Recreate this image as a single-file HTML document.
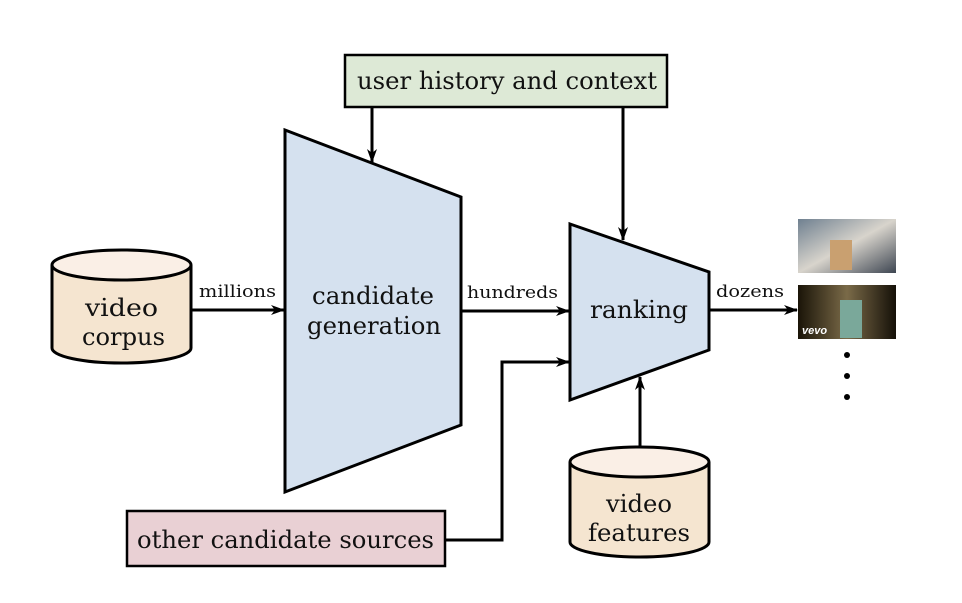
<!DOCTYPE html>
<html><head><meta charset="utf-8"><style>
body{margin:0;background:#fff}
svg text{font-family:"DejaVu Serif","Liberation Serif",serif;fill:#111}
</style></head><body>
<svg width="962" height="598" viewBox="0 0 962 598" xmlns="http://www.w3.org/2000/svg">
<defs>
<marker id="a" viewBox="0 0 14 10" refX="13" refY="5" markerWidth="14" markerHeight="10" markerUnits="userSpaceOnUse" orient="auto">
<path d="M0,0 L14,5 L0,10 L4,5 Z" fill="#000"/></marker>
<linearGradient id="g1" x1="0" y1="0" x2="1" y2="1"><stop offset="0" stop-color="#6f8090"/><stop offset="0.5" stop-color="#d8d4cc"/><stop offset="1" stop-color="#3e4652"/></linearGradient>
<linearGradient id="g2" x1="0" y1="0" x2="1" y2="0"><stop offset="0" stop-color="#1a1408"/><stop offset="0.5" stop-color="#7a6a48"/><stop offset="1" stop-color="#151008"/></linearGradient>
</defs>
<g stroke="#000" stroke-width="3" fill="none">
<path d="M52,265 L52,348 A69.5,15 0 0 0 191,348 L191,265" fill="#f5e5d0"/>
<ellipse cx="121.5" cy="265" rx="69.5" ry="15" fill="#faefe6"/>
<polygon points="285,130 461,197 461,425 285,492" fill="#d5e1ef"/>
<polygon points="570,224 709,272 709,350 570,400" fill="#d5e1ef"/>
<rect x="345" y="55" width="322" height="52" fill="#dde9d6" stroke-width="2.5"/>
<rect x="127" y="511" width="318" height="55" fill="#e9d0d4" stroke-width="2.5"/>
<path d="M570,462 L570,542 A69.5,15 0 0 0 709,542 L709,462" fill="#f5e5d0"/>
<ellipse cx="639.5" cy="462" rx="69.5" ry="15" fill="#faefe6"/>
<line x1="191" y1="310" x2="284" y2="310" marker-end="url(#a)"/>
<line x1="461" y1="311" x2="569" y2="311" marker-end="url(#a)"/>
<line x1="709" y1="310" x2="797" y2="310" marker-end="url(#a)"/>
<line x1="372" y1="107" x2="372" y2="162" marker-end="url(#a)"/>
<line x1="623" y1="107" x2="623" y2="240" marker-end="url(#a)"/>
<polyline points="445,540 502,540 502,362 569,362" marker-end="url(#a)"/>
<line x1="640" y1="447" x2="640" y2="377" marker-end="url(#a)"/>
</g>
<rect x="798" y="219" width="98" height="54" fill="url(#g1)"/>
<rect x="830" y="240" width="22" height="30" fill="#c9a070"/>
<rect x="798" y="285" width="98" height="54" fill="url(#g2)"/>
<rect x="840" y="300" width="22" height="38" fill="#7aa89a"/>
<text x="802" y="334" font-size="11" style="fill:#fff;font-family:'Liberation Sans',sans-serif;font-style:italic;font-weight:bold">vevo</text>
<circle cx="847" cy="355" r="3" fill="#000"/>
<circle cx="847" cy="376" r="3" fill="#000"/>
<circle cx="847" cy="397" r="3" fill="#000"/>
<g font-size="24" lengthAdjust="spacingAndGlyphs">
<text x="357" y="89" textLength="300" lengthAdjust="spacingAndGlyphs">user history and context</text>
<text x="85" y="316" textLength="73" lengthAdjust="spacingAndGlyphs">video</text>
<text x="82" y="345" textLength="83" lengthAdjust="spacingAndGlyphs">corpus</text>
<text x="312" y="304" textLength="122" lengthAdjust="spacingAndGlyphs">candidate</text>
<text x="307" y="334" textLength="134" lengthAdjust="spacingAndGlyphs">generation</text>
<text x="590" y="318" textLength="98" lengthAdjust="spacingAndGlyphs">ranking</text>
<text x="606" y="512" textLength="66" lengthAdjust="spacingAndGlyphs">video</text>
<text x="588" y="541" textLength="102" lengthAdjust="spacingAndGlyphs">features</text>
<text x="137" y="548" textLength="297" lengthAdjust="spacingAndGlyphs">other candidate sources</text>
</g>
<g font-size="17">
<text x="199" y="297" textLength="77" lengthAdjust="spacingAndGlyphs">millions</text>
<text x="467" y="298" textLength="91" lengthAdjust="spacingAndGlyphs">hundreds</text>
<text x="716" y="297" textLength="68" lengthAdjust="spacingAndGlyphs">dozens</text>
</g>
</svg>
</body></html>
